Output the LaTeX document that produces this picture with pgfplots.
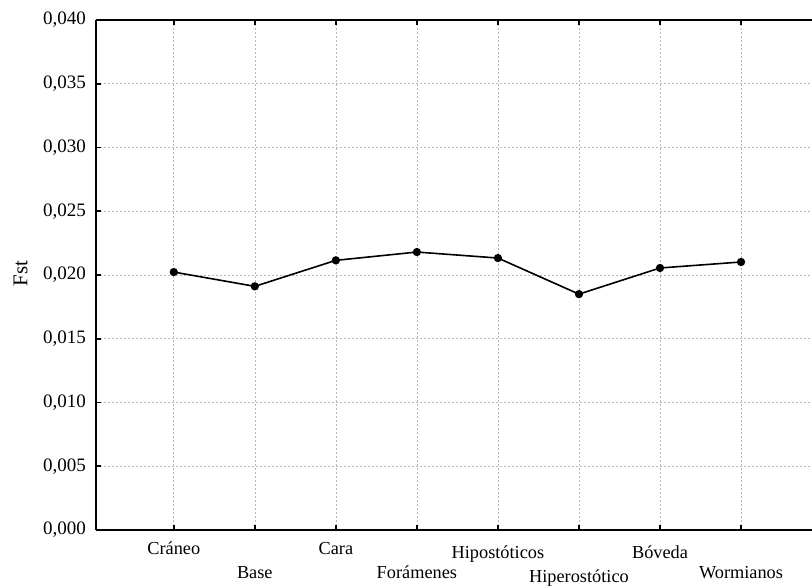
\documentclass[border=0pt]{standalone}
\usepackage{fontspec}
\setmainfont{Liberation Serif}
\usepackage{pgfplots}
\pgfplotsset{compat=1.18}
\begin{document}
\begin{tikzpicture}
\begin{axis}[
  at={(0,0)}, anchor=south west,
  scale only axis, width=722bp, height=510bp,
  xmin=0.04, xmax=8.95, ymin=0, ymax=0.04,
  axis x line*=box, axis y line*=left,
  axis line style={line width=2bp, black},
  font=\fontsize{18.3bp}{22bp}\selectfont,
  tick align=inside, major tick length=5bp,
  tick style={line width=1.8bp, black},
  grid=major,
  major grid style={dash pattern=on 2bp off 2bp, color=black!28, line width=0.6bp},
  xtick={1,3,5,7},
  xticklabels={Cráneo,Cara,\raisebox{-4bp}{Hipostóticos},\raisebox{-4bp}{Bóveda}},
  xticklabel style={anchor=base, yshift=-24bp},
  extra x ticks={2,4,6,8},
  extra x tick labels={Base,Forámenes,\raisebox{-4bp}{Hiperostótico},Wormianos},
  extra x tick style={xticklabel style={yshift=-24bp}},
  ytick={0,0.005,0.01,0.015,0.02,0.025,0.03,0.035,0.04},
  scaled y ticks=false,
  /pgf/number format/fixed,
  /pgf/number format/fixed zerofill,
  /pgf/number format/precision=3,
  /pgf/number format/use comma,
  /pgf/number format/assume math mode=true,
  yticklabel style={anchor=east, inner sep=0pt, xshift=-10bp, font=\fontsize{19bp}{22bp}\selectfont},
  ylabel={Fst},
  every axis y label/.style={at={(axis description cs:-0.1046,0.503)}, rotate=90, anchor=center, font=\fontsize{21bp}{24bp}\selectfont},
]
\addplot[black, line width=1.6bp, mark=*, mark size=3.3bp] coordinates {
  (1,0.02023) (2,0.01911) (3,0.02115) (4,0.02180)
  (5,0.02133) (6,0.01850) (7,0.02055) (8,0.02102)
};
\end{axis}
\pgfresetboundingbox
\path[use as bounding box] (-96bp,-56bp) rectangle (716bp,530bp);
\end{tikzpicture}
\end{document}
